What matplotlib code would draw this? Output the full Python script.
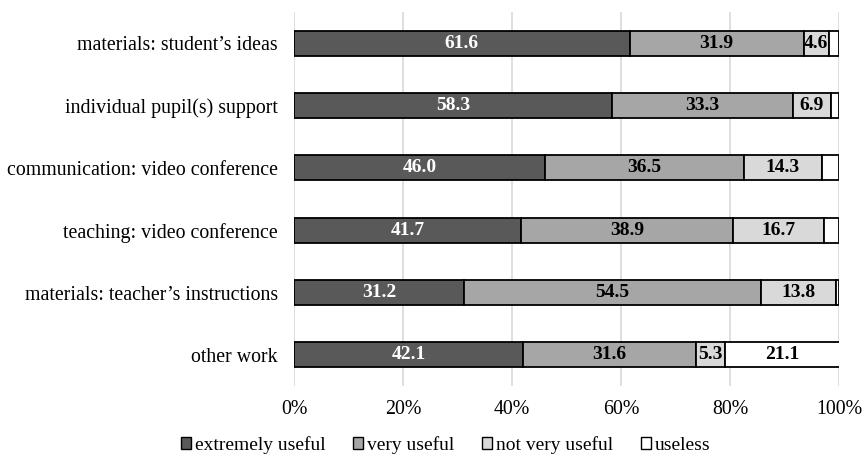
import numpy as np
import matplotlib
matplotlib.use("Agg")
import matplotlib.pyplot as plt
from matplotlib.patches import Patch

plt.rcParams['font.family'] = ['Liberation Serif', 'DejaVu Serif']

# survey answers, percent of respondents
categories = [
    "materials: student\u2019s ideas",
    "individual pupil(s) support",
    "communication: video conference",
    "teaching: video conference",
    "materials: teacher\u2019s instructions",
    "other work",
]
extremely_useful = [61.6, 58.3, 46.0, 41.7, 31.2, 42.1]
very_useful = [31.9, 33.3, 36.5, 38.9, 54.5, 31.6]
not_very_useful = [4.6, 6.9, 14.3, 16.7, 13.8, 5.3]
useless = [1.9, 1.5, 3.2, 2.7, 0.5, 21.1]

series = [
    ("extremely useful", extremely_useful, "#595959", "white"),
    ("very useful", very_useful, "#a6a6a6", "black"),
    ("not very useful", not_very_useful, "#d9d9d9", "black"),
    ("useless", useless, "white", "black"),
]

fig = plt.figure(figsize=(8.64, 4.55), dpi=100)
ax = fig.add_axes([0.3403, 0.1516, 0.6308, 0.822])

y = np.arange(len(categories))
left = np.zeros(len(categories))
for name, vals, color, tcolor in series:
    vals = np.array(vals)
    ax.barh(y, vals, left=left, height=0.4, color=color,
            edgecolor="black", linewidth=1.3, label=name, zorder=3)
    # value labels on segments wide enough to hold them
    for yi, l, v in zip(y, left, vals):
        if v >= 4:
            ax.text(l + v / 2, yi, f"{v:.1f}", ha="center", va="center",
                    color=tcolor, fontsize=14, fontweight="bold", zorder=4)
    left += vals

ax.set_xlim(0, 100)
ax.set_ylim(5.5, -0.5)
ax.set_yticks(y)
ax.set_yticklabels(categories, fontsize=14.3)
ax.set_xticks(np.arange(0, 101, 20))
ax.set_xticklabels([f"{t}%" for t in range(0, 101, 20)], fontsize=14.3)
ax.tick_params(length=0)
ax.tick_params(axis="y", pad=11.5)
ax.tick_params(axis="x", pad=10)
ax.grid(axis="x", color="#d9d9d9", linewidth=1.2, zorder=0)
for s in ax.spines.values():
    s.set_visible(False)

handles = [Patch(facecolor=c, edgecolor="black", linewidth=1.0, label=n)
           for n, _, c, _ in series]
fig.legend(handles=handles, loc="center", bbox_to_anchor=(0.516, 0.022),
           ncol=4, frameon=False, fontsize=14, handlelength=0.5,
           handleheight=0.5, handletextpad=0.2, columnspacing=1.45,
           borderpad=0, borderaxespad=0)

fig.savefig("out.png", dpi=100)
